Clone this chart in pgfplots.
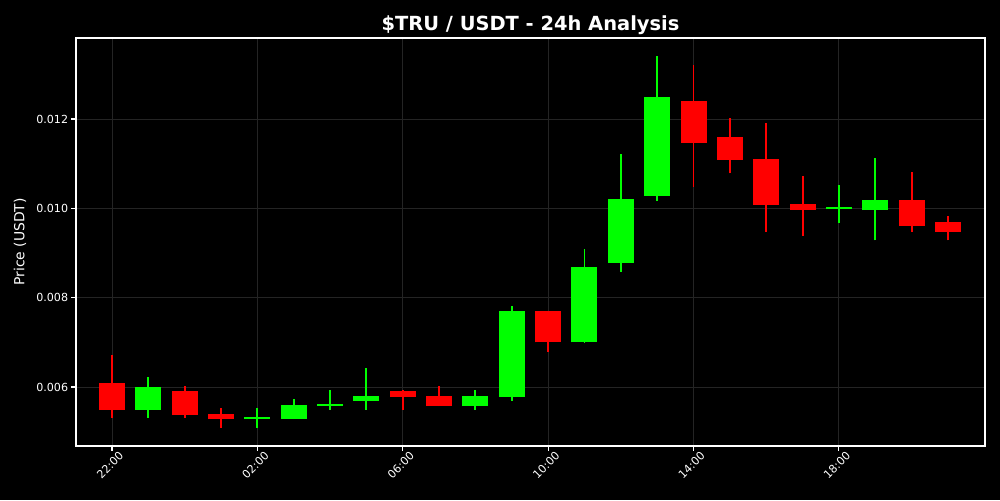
\documentclass[border=0pt]{standalone}
\usepackage{pgfplots}
\pgfplotsset{compat=1.18}
\usepackage{pgfplotstable}
\usepackage{fontspec}
\setmainfont{DejaVu Sans}
\definecolor{cgreen}{RGB}{0,255,0}
\definecolor{cred}{RGB}{255,0,0}
\definecolor{gridc}{RGB}{36,36,36}

\pgfplotstableread{
x open high low close
1 0.00549 0.00622 0.00531 0.00599
4 0.00528 0.00553 0.00509 0.00532
5 0.00528 0.00573 0.00528 0.00560
6 0.00558 0.00593 0.00549 0.00561
7 0.00569 0.00643 0.00549 0.00580
10 0.00557 0.00593 0.00549 0.00580
11 0.00578 0.00781 0.00569 0.00770
13 0.00700 0.00910 0.00699 0.00869
14 0.00878 0.01122 0.00858 0.01020
15 0.01028 0.01341 0.01017 0.01249
20 0.00998 0.01052 0.00968 0.01002
21 0.00996 0.01113 0.00928 0.01019
}\greendata

\pgfplotstableread{
x open high low close
0 0.00610 0.00672 0.00531 0.00549
2 0.00592 0.00602 0.00531 0.00537
3 0.00540 0.00552 0.00509 0.00528
8 0.00592 0.00593 0.00549 0.00578
9 0.00580 0.00602 0.00557 0.00557
12 0.00771 0.00771 0.00679 0.00700
16 0.01241 0.01321 0.01048 0.01147
17 0.01160 0.01202 0.01078 0.01109
18 0.01111 0.01191 0.00947 0.01008
19 0.01010 0.01072 0.00939 0.00997
22 0.01019 0.01081 0.00948 0.00960
23 0.00969 0.00983 0.00928 0.00948
}\reddata

\begin{document}
\begin{tikzpicture}
\fill[black] (-54.72pt,-38.88pt) rectangle (665.28pt,321.12pt);
\begin{axis}[
  scale only axis,
  width=654.48pt, height=293.76pt,
  at={(0,0)}, anchor=south west,
  xmin=-0.99, xmax=24.02,
  ymin=0.004679, ymax=0.013813,
  axis background/.style={fill=black},
  axis line style={white, line width=0.8pt},
  xtick={0,4,8,12,16,20},
  xticklabels={22:00,02:00,06:00,10:00,14:00,18:00},
  ytick={0.006,0.008,0.010,0.012},
  yticklabel style={/pgf/number format/fixed, /pgf/number format/fixed zerofill, /pgf/number format/precision=3, /pgf/number format/assume math mode=true, inner sep=2pt},
  scaled y ticks=false,
  xtick pos=bottom, ytick pos=left,
  tick align=outside,
  major tick length=3.5pt,
  tick style={white, line width=0.8pt},
  tick label style={white, font=\fontsize{8}{9}\selectfont},
  xticklabel style={rotate=45, anchor=north east, inner sep=1pt, yshift=-2pt, xshift=4.5pt},
  grid=major,
  major grid style={gridc, line width=0.6pt},
  title={\$TRU / USDT - 24h Analysis},
  title style={white, font=\fontsize{14}{16}\selectfont\bfseries, at={(axis description cs:0.5,1)}, anchor=base, yshift=-0.3pt},
  ylabel={Price (USDT)},
  ylabel style={white, font=\fontsize{10}{12}\selectfont, at={(axis description cs:-0.0616,0.5)}, anchor=center},
]
% wicks
\addplot[draw=none, mark=none,
  error bars/.cd, y dir=plus, y explicit, error mark=none,
  error bar style={draw=cgreen, line width=1.4pt}]
  table[x=x, y=low, y error expr=\thisrow{high}-\thisrow{low}] {\greendata};
\addplot[draw=none, mark=none,
  error bars/.cd, y dir=plus, y explicit, error mark=none,
  error bar style={draw=cred, line width=1.4pt}]
  table[x=x, y=low, y error expr=\thisrow{high}-\thisrow{low}] {\reddata};
% bodies
\addplot[draw=none, mark=none,
  error bars/.cd, y dir=plus, y explicit, error mark=none,
  error bar style={draw=cgreen, line width=18.7pt}]
  table[x=x, y=open, y error expr=\thisrow{close}-\thisrow{open}] {\greendata};
\addplot[draw=none, mark=none,
  error bars/.cd, y dir=plus, y explicit, error mark=none,
  error bar style={draw=cred, line width=18.7pt}]
  table[x=x, y=close, y error expr=\thisrow{open}-\thisrow{close}] {\reddata};
\end{axis}
\end{tikzpicture}
\end{document}
